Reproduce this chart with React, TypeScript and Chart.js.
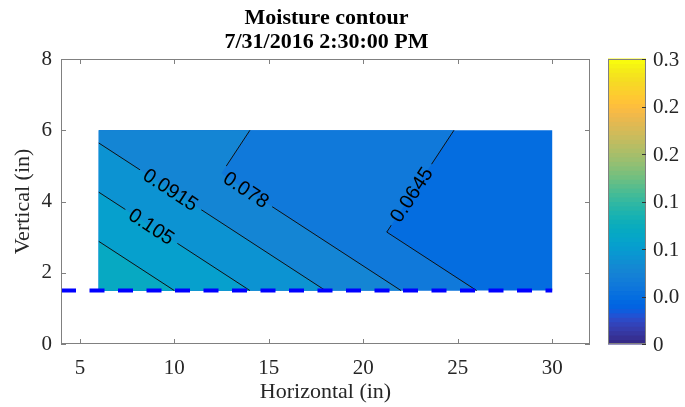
import React, { useEffect, useRef } from 'react';
import { Chart, registerables } from 'chart.js';

Chart.register(...registerables);

const SERIF = '"Liberation Serif", "Times New Roman", serif';
const SANS = '"Liberation Sans", Arial, sans-serif';

// ---------- data ----------
const titleLines = ['Moisture contour', '7/31/2016 2:30:00 PM'];
const xAxisLabel = 'Horizontal (in)';
const yAxisLabel = 'Vertical (in)';
const xRange = [4, 32];
const yRange = [0, 8];
const xTicks = [5, 10, 15, 20, 25, 30];
const yTicks = [0, 2, 4, 6, 8];

// sensor grid (inches) and moisture readings; rows follow gridY, columns follow gridX
const gridX = [6, 30];
const gridY = [1.5, 6];
const moisture = [
  [0.132, 0.051],
  [0.088, 0.058],
];

const contourLevels = [0.0645, 0.078, 0.0915, 0.105, 0.1185];
const labelLevels = [0.0915, 0.105, 0.078, 0.0645];
const labelTexts = ['0.0915', '0.105', '0.078', '0.0645'];
const labelAtY = [4.33, 3.3, 4.33, 4.19];

const boundaryX = [4, 30];
const boundaryY = [1.5, 1.5];

const colorLimits = [0, 0.3];
const colorbarTicks = [0, 0.05, 0.1, 0.15, 0.2, 0.25, 0.3];
const colorbarTickLabels = ['0', '0.0', '0.1', '0.1', '0.2', '0.2', '0.3'];

// parula colormap (64 entries)
const PARULA: number[][] = [
  [0.2081, 0.1663, 0.5292], [0.2116, 0.1898, 0.5777], [0.2123, 0.2138, 0.627], [0.2081, 0.2386, 0.6771],
  [0.1959, 0.2645, 0.7279], [0.1707, 0.2919, 0.7792], [0.1253, 0.3242, 0.8303], [0.0591, 0.3598, 0.8683],
  [0.0117, 0.3875, 0.882], [0.006, 0.4086, 0.8828], [0.0165, 0.4266, 0.8786], [0.0329, 0.443, 0.872],
  [0.0498, 0.4586, 0.8641], [0.0629, 0.4737, 0.8554], [0.0723, 0.4887, 0.8467], [0.0779, 0.504, 0.8384],
  [0.0793, 0.52, 0.8312], [0.0749, 0.5375, 0.8263], [0.0641, 0.557, 0.824], [0.0488, 0.5772, 0.8228],
  [0.0343, 0.5966, 0.8199], [0.0265, 0.6137, 0.8135], [0.0239, 0.6287, 0.8038], [0.0231, 0.6418, 0.7913],
  [0.0228, 0.6535, 0.7768], [0.0267, 0.6642, 0.7607], [0.0384, 0.6743, 0.7436], [0.059, 0.6838, 0.7254],
  [0.0843, 0.6928, 0.7062], [0.1133, 0.7015, 0.6859], [0.1453, 0.7098, 0.6646], [0.1801, 0.7177, 0.6424],
  [0.2178, 0.725, 0.6193], [0.2586, 0.7317, 0.5954], [0.3022, 0.7376, 0.5712], [0.3482, 0.7424, 0.5473],
  [0.3953, 0.7459, 0.5244], [0.442, 0.7481, 0.5033], [0.4871, 0.7491, 0.484], [0.53, 0.7491, 0.4661],
  [0.5709, 0.7485, 0.4494], [0.6099, 0.7473, 0.4337], [0.6473, 0.7456, 0.4188], [0.6834, 0.7435, 0.4044],
  [0.7184, 0.7411, 0.3905], [0.7525, 0.7384, 0.3768], [0.7858, 0.7356, 0.3633], [0.8185, 0.7327, 0.3498],
  [0.8507, 0.7299, 0.336], [0.8824, 0.7274, 0.3217], [0.9139, 0.7258, 0.3063], [0.945, 0.7261, 0.2886],
  [0.9739, 0.7314, 0.2666], [0.9938, 0.7455, 0.2403], [0.999, 0.7653, 0.2164], [0.9955, 0.7861, 0.1967],
  [0.988, 0.8066, 0.1794], [0.9789, 0.8271, 0.1633], [0.9697, 0.8481, 0.1475], [0.9626, 0.8705, 0.1309],
  [0.9589, 0.8949, 0.1132], [0.9598, 0.9218, 0.0948], [0.9661, 0.9514, 0.0755], [0.9763, 0.9831, 0.0538],
];

// ---------- helpers ----------
type V = { x: number; y: number; f: number };

function rgbOf(c: number[]) {
  return `rgb(${Math.round(c[0] * 255)},${Math.round(c[1] * 255)},${Math.round(c[2] * 255)})`;
}

function colorFor(v: number) {
  const n = PARULA.length;
  let idx = Math.floor(((v - colorLimits[0]) / (colorLimits[1] - colorLimits[0])) * n);
  idx = Math.max(0, Math.min(n - 1, idx));
  return rgbOf(PARULA[idx]);
}

function triangles(): V[][] {
  const v = (i: number, j: number): V => ({ x: gridX[i], y: gridY[j], f: moisture[j][i] });
  return [
    [v(0, 0), v(1, 0), v(0, 1)],
    [v(0, 1), v(1, 0), v(1, 1)],
  ];
}

function clipAbove(poly: V[], L: number): V[] {
  const out: V[] = [];
  for (let i = 0; i < poly.length; i++) {
    const a = poly[i];
    const b = poly[(i + 1) % poly.length];
    const ain = a.f >= L;
    const bin = b.f >= L;
    if (ain) out.push(a);
    if (ain !== bin) {
      const t = (L - a.f) / (b.f - a.f);
      out.push({ x: a.x + t * (b.x - a.x), y: a.y + t * (b.y - a.y), f: L });
    }
  }
  return out;
}

function segmentAt(tri: V[], L: number): V[][] {
  const pts: V[] = [];
  for (let i = 0; i < 3; i++) {
    const a = tri[i];
    const b = tri[(i + 1) % 3];
    if ((a.f - L) * (b.f - L) < 0) {
      const t = (L - a.f) / (b.f - a.f);
      pts.push({ x: a.x + t * (b.x - a.x), y: a.y + t * (b.y - a.y), f: L });
    }
  }
  return pts.length === 2 ? [pts] : [];
}

const LABEL_FONT = `20px ${SANS}`;

const contourPlugin = {
  id: 'contourFill',
  beforeDatasetsDraw(chart: any) {
    const { ctx } = chart;
    const xs = chart.scales.x;
    const ys = chart.scales.y;
    const px = (p: { x: number; y: number }) => [xs.getPixelForValue(p.x), ys.getPixelForValue(p.y)];
    const tris = triangles();
    const dataMin = Math.min(...moisture.flat());
    const fillLevels = [-Infinity, ...contourLevels];

    ctx.save();
    fillLevels.forEach((L, k) => {
      ctx.beginPath();
      tris.forEach((t) => {
        const poly = clipAbove(t, L);
        if (poly.length < 3) return;
        poly.forEach((p, i) => {
          const [a, b] = px(p);
          if (i === 0) ctx.moveTo(a, b);
          else ctx.lineTo(a, b);
        });
        ctx.closePath();
      });
      ctx.fillStyle = colorFor(k === 0 ? dataMin : L);
      ctx.fill();
    });

    const segs = contourLevels.map((L) => tris.flatMap((t) => segmentAt(t, L)));

    ctx.font = LABEL_FONT;
    const labels: any[] = [];
    labelLevels.forEach((L, i) => {
      const li = contourLevels.indexOf(L);
      const target = labelAtY[i];
      for (const [a, b] of segs[li]) {
        if (a.y !== b.y && (a.y - target) * (b.y - target) <= 0) {
          const t = (target - a.y) / (b.y - a.y);
          const xx = a.x + t * (b.x - a.x);
          const pa = px(a);
          const pb = px(b);
          let ang = Math.atan2(pb[1] - pa[1], pb[0] - pa[0]);
          if (ang > Math.PI / 2) ang -= Math.PI;
          if (ang < -Math.PI / 2) ang += Math.PI;
          labels.push({
            cx: xs.getPixelForValue(xx),
            cy: ys.getPixelForValue(target),
            ang,
            text: labelTexts[i],
            w: ctx.measureText(labelTexts[i]).width,
          });
          break;
        }
      }
    });

    ctx.save();
    ctx.beginPath();
    ctx.rect(0, 0, chart.width, chart.height);
    labels.forEach((l) => {
      const w = l.w + 12;
      const h = 18;
      const c = Math.cos(l.ang);
      const s = Math.sin(l.ang);
      const corners = [
        [-w / 2, -h / 2],
        [w / 2, -h / 2],
        [w / 2, h / 2],
        [-w / 2, h / 2],
      ].map(([u, v]) => [l.cx + u * c - v * s, l.cy + u * s + v * c]);
      corners.forEach(([a, b], i) => (i === 0 ? ctx.moveTo(a, b) : ctx.lineTo(a, b)));
      ctx.closePath();
    });
    ctx.clip('evenodd');
    ctx.strokeStyle = '#111';
    ctx.lineWidth = 1;
    segs.forEach((list) =>
      list.forEach(([a, b]) => {
        const pa = px(a);
        const pb = px(b);
        ctx.beginPath();
        ctx.moveTo(pa[0], pa[1]);
        ctx.lineTo(pb[0], pb[1]);
        ctx.stroke();
      })
    );
    ctx.restore();

    ctx.fillStyle = '#000';
    ctx.textAlign = 'center';
    ctx.textBaseline = 'middle';
    ctx.font = LABEL_FONT;
    labels.forEach((l) => {
      ctx.save();
      ctx.translate(l.cx, l.cy);
      ctx.rotate(l.ang);
      ctx.fillText(l.text, 0, 1);
      ctx.restore();
    });
    ctx.restore();
  },
};

const AXIS_COLOR = '#808080';
const TEXT_COLOR = '#262626';

const framePlugin = {
  id: 'frameAndColorbar',
  afterDraw(chart: any) {
    const { ctx, chartArea } = chart;
    const { left, right, top, bottom } = chartArea;
    const xs = chart.scales.x;
    const ys = chart.scales.y;
    ctx.save();
    ctx.strokeStyle = AXIS_COLOR;
    ctx.lineWidth = 1;
    ctx.strokeRect(left + 0.5, top + 0.5, right - left - 1, bottom - top - 1);
    const tl = 5;
    ctx.beginPath();
    xTicks.forEach((v) => {
      const p = Math.round(xs.getPixelForValue(v)) + 0.5;
      ctx.moveTo(p, bottom);
      ctx.lineTo(p, bottom - tl);
      ctx.moveTo(p, top);
      ctx.lineTo(p, top + tl);
    });
    yTicks.forEach((v) => {
      const p = Math.round(ys.getPixelForValue(v)) + 0.5;
      ctx.moveTo(left, p);
      ctx.lineTo(left + tl, p);
      ctx.moveTo(right, p);
      ctx.lineTo(right - tl, p);
    });
    ctx.stroke();

    // title, centred over the plot area
    ctx.fillStyle = '#000';
    ctx.font = `bold 22px ${SERIF}`;
    ctx.textAlign = 'center';
    ctx.textBaseline = 'middle';
    const cx = (left + right) / 2;
    titleLines.forEach((t, i) => ctx.fillText(t, cx + 1, top - 41 + i * 24));

    // colorbar
    const cbL = right + 18;
    const cbR = right + 56;
    const n = PARULA.length;
    const h = bottom - top;
    for (let i = 0; i < n; i++) {
      const y0 = bottom - (h * i) / n;
      const y1 = bottom - (h * (i + 1)) / n;
      ctx.fillStyle = rgbOf(PARULA[i]);
      ctx.fillRect(cbL, y1 - 0.5, cbR - cbL, y0 - y1 + 1);
    }
    ctx.strokeStyle = AXIS_COLOR;
    ctx.strokeRect(cbL + 0.5, top + 0.5, cbR - cbL - 1, h - 1);
    ctx.beginPath();
    ctx.strokeStyle = '#333';
    colorbarTicks.forEach((v) => {
      const p = Math.round(bottom - (h * (v - colorLimits[0])) / (colorLimits[1] - colorLimits[0])) + 0.5;
      ctx.moveTo(cbR - 4, p);
      ctx.lineTo(cbR, p);
    });
    ctx.stroke();
    ctx.fillStyle = TEXT_COLOR;
    ctx.font = `21px ${SERIF}`;
    ctx.textAlign = 'left';
    ctx.textBaseline = 'middle';
    colorbarTicks.forEach((v, i) => {
      const p = bottom - (h * (v - colorLimits[0])) / (colorLimits[1] - colorLimits[0]);
      ctx.fillText(colorbarTickLabels[i], cbR + 7, p + 1);
    });
    ctx.restore();
  },
};

export default function App() {
  const ref = useRef<HTMLCanvasElement | null>(null);
  useEffect(() => {
    if (!ref.current) return;
    const tickFont = { family: SERIF, size: 21 };
    const chart = new Chart(ref.current, {
      type: 'line',
      data: {
        datasets: [
          {
            data: boundaryX.map((x, i) => ({ x, y: boundaryY[i] })),
            borderColor: 'rgb(0,0,255)',
            borderWidth: 4,
            borderDash: [15, 13.5],
            borderCapStyle: 'butt',
            pointRadius: 0,
            fill: false,
          },
        ],
      },
      options: {
        animation: false,
        responsive: false,
        devicePixelRatio: 1,
        events: [],
        layout: { padding: { left: 0, right: 95, top: 59, bottom: 0 } },
        plugins: {
          legend: { display: false },
          tooltip: { enabled: false },
          title: { display: false },
        },
        scales: {
          x: {
            type: 'linear',
            min: xRange[0],
            max: xRange[1],
            afterBuildTicks: (s: any) => {
              s.ticks = xTicks.map((v) => ({ value: v }));
            },
            afterFit: (s: any) => {
              s.height = 63;
            },
            grid: { display: false, drawTicks: false },
            border: { display: false },
            ticks: { font: tickFont, color: TEXT_COLOR, padding: 12, maxRotation: 0, autoSkip: false },
            title: { display: true, text: xAxisLabel, font: { family: SERIF, size: 22 }, color: TEXT_COLOR, padding: 2 },
          },
          y: {
            type: 'linear',
            min: yRange[0],
            max: yRange[1],
            afterBuildTicks: (s: any) => {
              s.ticks = yTicks.map((v) => ({ value: v }));
            },
            afterFit: (s: any) => {
              s.width = 61;
            },
            grid: { display: false, drawTicks: false },
            border: { display: false },
            ticks: { font: tickFont, color: TEXT_COLOR, padding: 9, autoSkip: false },
            title: { display: true, text: yAxisLabel, font: { family: SERIF, size: 22 }, color: TEXT_COLOR, padding: 10 },
          },
        },
      },
      plugins: [contourPlugin, framePlugin],
    } as any);
    return () => chart.destroy();
  }, []);
  return (
    <div style={{ position: 'fixed', left: 0, top: 0, width: 685, height: 407, background: '#fff' }}>
      <canvas ref={ref} width={685} height={407} style={{ width: 685, height: 407, display: 'block' }} />
    </div>
  );
}
